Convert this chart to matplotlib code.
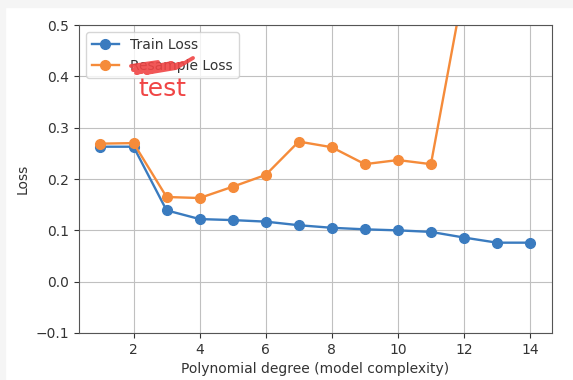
import matplotlib
matplotlib.use("Agg")
import matplotlib.pyplot as plt
from matplotlib.patches import Rectangle
from matplotlib.lines import Line2D

degrees = list(range(1, 15))
train_loss = [0.263, 0.263, 0.139, 0.122, 0.120, 0.117, 0.110, 0.105, 0.102, 0.100, 0.097, 0.086, 0.076, 0.076]
resample_loss = [0.269, 0.270, 0.165, 0.163, 0.185, 0.208, 0.273, 0.262, 0.229, 0.237, 0.229, 0.576, 2.1, 4.6]

fig = plt.figure(figsize=(5.73, 3.80), dpi=100)
ax = fig.add_axes([0.1379, 0.1237, 0.8246, 0.8103])

ax.plot(degrees, train_loss, marker="o", markersize=7, linewidth=1.7,
        color="#3a7bbf", label="Train Loss")
ax.plot(degrees, resample_loss, marker="o", markersize=7, linewidth=1.7,
        color="#f58b3a", label="Resample Loss")
ax.set_ylim(-0.1, 0.5)
ax.set_xlim(0.35, 14.65)
ax.set_xticks([2, 4, 6, 8, 10, 12, 14])
ax.set_xlabel("Polynomial degree (model complexity)", color="#333333")
ax.set_ylabel("Loss", color="#333333")
ax.tick_params(colors="#333333")
for s in ax.spines.values():
    s.set_color("#555555")
ax.grid(True, color="#c0c0c0")
leg = ax.legend(loc="upper left")
for t in leg.get_texts():
    t.set_color("#333333")

# light frame strip along the top and left edges
fig.patches.append(Rectangle((0, 1 - 7 / 380), 1, 7 / 380, transform=fig.transFigure,
                             color="#f5f5f5", zorder=0))
fig.patches.append(Rectangle((0, 0), 5 / 573, 1, transform=fig.transFigure,
                             color="#f5f5f5", zorder=0))


def px(x, y):
    return x / 573, 1 - y / 380


# red scribble crossing out the word "Resample"
scribble = [(131, 66), (158, 62), (133, 70), (172, 63), (136, 73), (184, 63),
            (146, 73), (176, 68), (193, 58)]
xs, ys = zip(*[px(x, y) for x, y in scribble])
fig.add_artist(Line2D(xs, ys, transform=fig.transFigure, color="#f04545",
                      linewidth=2.8, alpha=0.9, solid_capstyle="round",
                      solid_joinstyle="round", zorder=10))

tx, ty = px(162, 89)
fig.text(tx, ty, "test", color="#f04545", fontsize=18, fontweight="medium",
         ha="center", va="center", zorder=10)

fig.savefig("out.png", dpi=100)
